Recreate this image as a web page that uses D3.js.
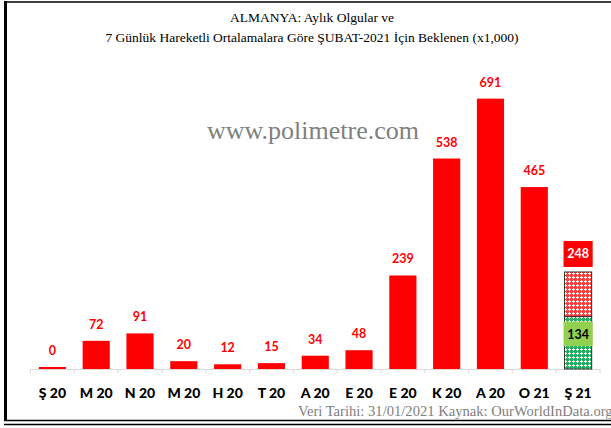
<!DOCTYPE html>
<html>
<head>
<meta charset="utf-8">
<script src="https://cdn.jsdelivr.net/npm/d3@7"></script>
<style>
  body { margin: 0; background: #fff; }
  svg { display: block; }
</style>
</head>
<body>
<svg id="chart" width="611" height="428"></svg>
<script>
// monthly cases (x1,000)
const months = ["Ş 20", "M 20", "N 20", "M 20", "H 20", "T 20", "A 20", "E 20", "E 20", "K 20", "A 20", "O 21", "Ş 21"];
const cases = [0, 72, 91, 20, 12, 15, 34, 48, 239, 538, 691, 465, null];
// expected February 2021: already reported + remaining
const febReported = 134;
const febExpected = 248;

const width = 611, height = 428;
const margin = { top: 56, right: 11, bottom: 59, left: 30.5 };

const svg = d3.select("#chart");

// frame
svg.append("line").attr("x1", 4).attr("x2", width).attr("y1", 2).attr("y2", 2)
  .attr("stroke", "#404040").attr("stroke-width", 2);
svg.append("line").attr("x1", 5.5).attr("x2", 5.5).attr("y1", 1).attr("y2", 421)
  .attr("stroke", "#000").attr("stroke-width", 3);
svg.append("line").attr("x1", 4).attr("x2", width).attr("y1", 420.5).attr("y2", 420.5)
  .attr("stroke", "#000").attr("stroke-width", 1.5);
svg.append("line").attr("x1", 4).attr("x2", width).attr("y1", 424.5).attr("y2", 424.5)
  .attr("stroke", "#000").attr("stroke-width", 1.5);

// patterns for the expected bar
const defs = svg.append("defs");
const makePattern = (id, color) =>
{
  const p = defs.append("pattern").attr("id", id)
    .attr("width", 4).attr("height", 4).attr("patternUnits", "userSpaceOnUse");
  p.append("rect").attr("width", 4).attr("height", 4).attr("fill", color);
  p.append("rect").attr("x", 1).attr("y", 0).attr("width", 1).attr("height", 3).attr("fill", "#fff");
  p.append("rect").attr("x", 0).attr("y", 1).attr("width", 3).attr("height", 1).attr("fill", "#fff");
};
makePattern("redHatch", "#ff4040");
makePattern("greenHatch", "#22b060");

// title
const serif = "'Liberation Serif', 'Times New Roman', serif";
const title = svg.append("text")
  .attr("text-anchor", "middle")
  .style("font-family", serif)
  .style("font-size", "13.5px")
  .attr("fill", "#000");
title.append("tspan").attr("x", 312).attr("y", 22).text("ALMANYA: Aylık Olgular  ve");
title.append("tspan").attr("x", 312).attr("y", 42).text("7 Günlük  Hareketli Ortalamalara Göre ŞUBAT-2021 İçin Beklenen (x1,000)");

// watermark
svg.append("text")
  .attr("x", 313).attr("y", 139)
  .attr("text-anchor", "middle")
  .style("font-family", serif)
  .style("font-size", "26px")
  .attr("fill", "#808080")
  .text("www.polimetre.com");

const x = d3.scaleBand()
  .domain(d3.range(months.length))
  .range([margin.left, width - margin.right])
  .paddingInner(0.38)
  .paddingOuter(0.19);

const y = d3.scaleLinear()
  .domain([0, 800])
  .range([height - margin.bottom, margin.top]);

const baseY = y(0);

// axis line and category ticks
const step = x.step();
svg.append("line")
  .attr("x1", margin.left).attr("x2", width - margin.right)
  .attr("y1", baseY + 0.5).attr("y2", baseY + 0.5)
  .attr("stroke", "#d9d9d9");
svg.append("g").selectAll("line")
  .data(d3.range(months.length + 1))
  .join("line")
  .attr("x1", i => margin.left + i * step)
  .attr("x2", i => margin.left + i * step)
  .attr("y1", baseY).attr("y2", baseY + 4)
  .attr("stroke", "#d9d9d9");

// monthly bars
const barData = cases.map((v, i) => ({ i, v })).filter(d => d.v !== null);

svg.append("g").selectAll("rect")
  .data(barData)
  .join("rect")
  .attr("x", d => x(d.i))
  .attr("width", x.bandwidth())
  .attr("y", d => Math.min(y(d.v), baseY - 2))
  .attr("height", d => Math.max(2, baseY - y(d.v)))
  .attr("fill", "#ff0000");

svg.append("g").selectAll("text")
  .data(barData)
  .join("text")
  .attr("x", d => x(d.i) + x.bandwidth() / 2)
  .attr("y", d => Math.min(y(d.v), baseY - 2) - 12)
  .attr("text-anchor", "middle")
  .style("font-family", "Lato, 'Open Sans', sans-serif")
  .style("font-weight", "bold")
  .style("font-size", "12.5px")
  .attr("fill", "#ff0000")
  .text(d => d.v);

// expected February bar (stacked: reported + remaining)
const fi = months.length - 1;
const fx = x(fi);
const fw = x.bandwidth();
svg.append("rect")
  .attr("x", fx).attr("width", fw)
  .attr("y", y(febReported)).attr("height", baseY - y(febReported))
  .attr("fill", "url(#greenHatch)").attr("stroke", "#333").attr("stroke-width", 1);
svg.append("rect")
  .attr("x", fx).attr("width", fw)
  .attr("y", y(febExpected)).attr("height", y(febReported) - y(febExpected))
  .attr("fill", "url(#redHatch)").attr("stroke", "#333").attr("stroke-width", 1);

// label boxes
const boxW = fw + 2;
svg.append("rect")
  .attr("x", fx - 1).attr("width", boxW)
  .attr("y", y(febExpected) - 31).attr("height", 26)
  .attr("fill", "#ff0000");
svg.append("text")
  .attr("x", fx + fw / 2).attr("y", y(febExpected) - 13.5)
  .attr("text-anchor", "middle")
  .style("font-family", "Lato, 'Open Sans', sans-serif")
  .style("font-weight", "bold").style("font-size", "12.5px")
  .attr("fill", "#fff")
  .text(febExpected);
svg.append("rect")
  .attr("x", fx - 1).attr("width", boxW)
  .attr("y", y(febReported) + 5).attr("height", 24.5)
  .attr("fill", "#92d050");
svg.append("text")
  .attr("x", fx + fw / 2).attr("y", y(febReported) + 22)
  .attr("text-anchor", "middle")
  .style("font-family", "Lato, 'Open Sans', sans-serif")
  .style("font-weight", "bold").style("font-size", "12.5px")
  .attr("fill", "#000")
  .text(febReported);

// category labels
svg.append("g").selectAll("text")
  .data(months)
  .join("text")
  .attr("x", (d, i) => x(i) + x.bandwidth() / 2)
  .attr("y", baseY + 29)
  .attr("text-anchor", "middle")
  .style("font-family", "Lato, 'Open Sans', sans-serif")
  .style("font-weight", "900")
  .style("font-size", "14px")
  .attr("fill", "#000")
  .text(d => d);

// source note (runs past the right edge, as in the original)
svg.append("text")
  .attr("x", 298).attr("y", 416)
  .style("font-family", serif)
  .style("font-size", "14.6px")
  .attr("fill", "#808080")
  .text("Veri Tarihi: 31/01/2021 Kaynak: OurWorldInData.org");
</script>
</body>
</html>
